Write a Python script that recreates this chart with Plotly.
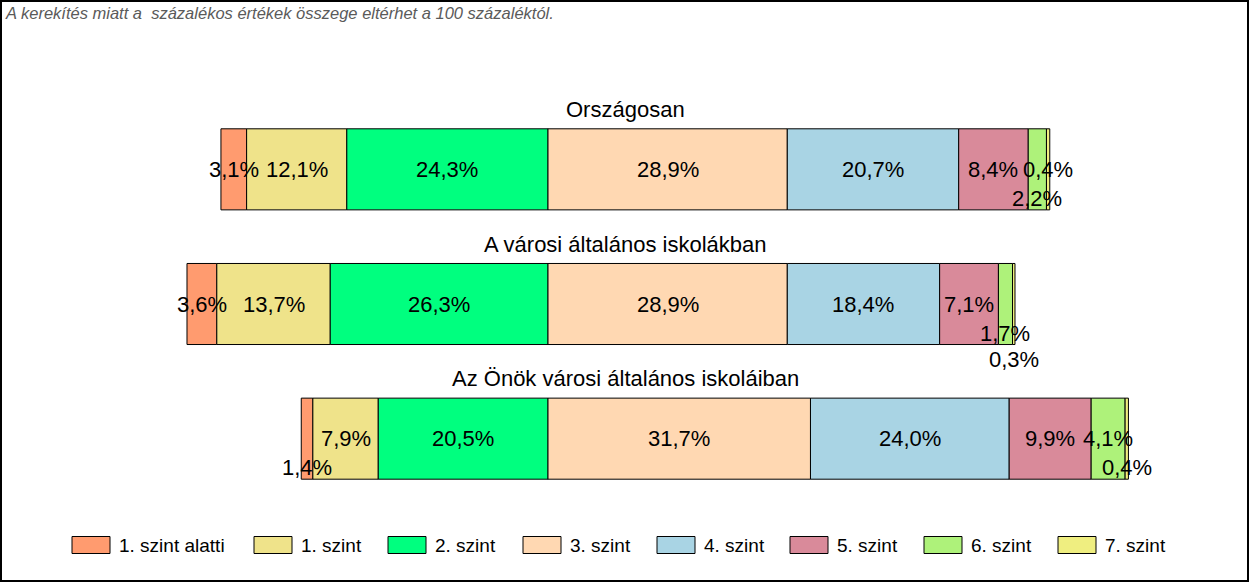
import plotly.graph_objects as go

categories = ["Országosan", "A városi általános iskolákban", "Az Önök városi általános iskoláiban"]
levels = ["1. szint alatti", "1. szint", "2. szint", "3. szint", "4. szint", "5. szint", "6. szint", "7. szint"]

szint_alatti = [3.1, 3.6, 1.4]
szint_1 = [12.1, 13.7, 7.9]
szint_2 = [24.3, 26.3, 20.5]
szint_3 = [28.9, 28.9, 31.7]
szint_4 = [20.7, 18.4, 24.0]
szint_5 = [8.4, 7.1, 9.9]
szint_6 = [2.2, 1.7, 4.1]
szint_7 = [0.4, 0.3, 0.4]

series = [szint_alatti, szint_1, szint_2, szint_3, szint_4, szint_5, szint_6, szint_7]
colors = ["#FF9B6F", "#EFE38A", "#00FF7F", "#FFD8B2", "#A9D4E4", "#D98A9A", "#AEF27A", "#EFEE80"]

# label vertical shifts (px) per category per level (style only)
label_shift = [
    [0, 0, 0, 0, 0, 0, -29, 0],
    [0, 0, 0, 0, 0, 0, -29, -55],
    [-29, 0, 0, 0, 0, 0, 0, -29],
]

FONT = "Liberation Sans, Arial, sans-serif"
W, H = 1250, 583
ML, MR, MT, MB = 0, 0, 102, 77
PX_PER_PCT = 8.28
ZERO_PX = 548
plot_w = W - ML - MR
plot_h = H - MT - MB

# legend layout (pixels, style only)
legend_left_px = [72, 254, 388, 523, 657, 790, 924, 1058]
LEG_BOX_W, LEG_BOX_H, LEG_Y = 38, 17, 545


def px_x(px):
    return (px - ML) / plot_w


def px_y(py):
    return (H - MB - py) / plot_h


fig = go.Figure()
ypos = list(range(len(categories)))
n_left = 3
annotations = []
shapes = []

for j, (lvl, vals, col) in enumerate(zip(levels, series, colors)):
    bases = []
    for i in range(len(categories)):
        if j < n_left:
            b = -sum(series[k][i] for k in range(j, n_left))
        else:
            b = sum(series[k][i] for k in range(n_left, j))
        bases.append(b)
    fig.add_trace(go.Bar(
        name=lvl, y=ypos, x=vals, base=bases, orientation="h",
        marker=dict(color=col, line=dict(color="black", width=1)),
        hoverinfo="skip", showlegend=False,
    ))
    for i in range(len(categories)):
        annotations.append(dict(
            x=bases[i] + vals[i] / 2, y=ypos[i], xref="x", yref="y",
            text=f"{vals[i]:.1f}".replace(".", ",") + "%",
            showarrow=False, yshift=label_shift[i][j],
            font=dict(family=FONT, size=22, color="black"),
        ))
    # legend entry
    lx = legend_left_px[j]
    shapes.append(dict(
        type="rect", xref="paper", yref="paper",
        x0=px_x(lx), x1=px_x(lx + LEG_BOX_W),
        y0=px_y(LEG_Y + LEG_BOX_H / 2), y1=px_y(LEG_Y - LEG_BOX_H / 2),
        fillcolor=col, line=dict(color="black", width=1),
    ))
    annotations.append(dict(
        x=px_x(lx + LEG_BOX_W + 7), y=px_y(LEG_Y), xref="paper", yref="paper",
        xanchor="left", yanchor="middle", text=lvl, showarrow=False,
        font=dict(family=FONT, size=19, color="black"),
    ))

for i, c in enumerate(categories):
    annotations.append(dict(
        x=0.5, y=ypos[i], xref="paper", yref="y", text=c, showarrow=False,
        yshift=60, font=dict(family=FONT, size=22, color="black"),
    ))

annotations.append(dict(
    x=px_x(3), y=px_y(13), xref="paper", yref="paper",
    xanchor="left", yanchor="middle", showarrow=False,
    text="<i>A kerekítés miatt a  százalékos értékek összege eltérhet a 100 százaléktól.</i>",
    font=dict(family=FONT, size=16.5, color="#5a5a5a"),
))

shapes.append(dict(
    type="rect", xref="paper", yref="paper",
    x0=px_x(1), x1=px_x(W - 2), y0=px_y(H - 2), y1=px_y(1),
    line=dict(color="black", width=2), fillcolor="rgba(0,0,0,0)",
))

xmin = -ZERO_PX / PX_PER_PCT
xmax = (W - ZERO_PX) / PX_PER_PCT

fig.update_layout(
    width=W, height=H,
    margin=dict(l=ML, r=MR, t=MT, b=MB),
    paper_bgcolor="white", plot_bgcolor="white",
    barmode="overlay", bargap=0.398,
    xaxis=dict(range=[xmin, xmax], visible=False, fixedrange=True),
    yaxis=dict(range=[2.5, -0.5], visible=False, fixedrange=True),
    showlegend=False,
    annotations=annotations,
    shapes=shapes,
)

fig.write_html("out.html", config={"displayModeBar": False},
               post_script="document.body.style.margin='0';document.body.style.overflow='hidden';")
